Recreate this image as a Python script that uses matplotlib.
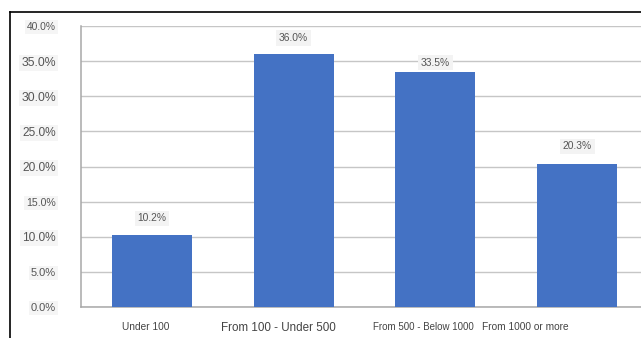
import matplotlib
matplotlib.use("Agg")
import matplotlib.pyplot as plt
from matplotlib.lines import Line2D
from matplotlib.transforms import ScaledTranslation

categories = ["Under 100", "From 100 - Under 500", "From 500 - Below 1000", "From 1000 or more"]
values = [10.2, 36.0, 33.5, 20.3]
yticks = [0, 5, 10, 15, 20, 25, 30, 35, 40]
ytick_labels = ["0.0%", "5.0%", "10.0%", "15.0%", "20.0%", "25.0%", "30.0%", "35.0%", "40.0%"]

plt.rcParams['font.family'] = ['Liberation Sans', 'DejaVu Sans']

W, H = 641, 338
fig = plt.figure(figsize=(W / 100, H / 100), dpi=100)
ax = fig.add_axes([81 / W, 31 / H, 1 - 81 / W, (307 - 26) / H])

x = list(range(len(categories)))
ax.bar(x, values, width=0.565, color="#4472c4", zorder=3)
ax.set_xlim(-0.5, 3.45)
ax.set_ylim(0, 40)

ax.set_yticks(yticks)
ax.set_yticklabels(ytick_labels)
ax.yaxis.grid(True, color="#c6c6c6", linewidth=1.0, zorder=0)
ax.set_axisbelow(True)
ax.tick_params(axis="y", length=0, pad=18, labelsize=7.6, labelcolor="#555555")
ax.tick_params(axis="x", length=0, pad=11, labelcolor="#444444")
ysizes = [8.0, 8.0, 8.6, 7.6, 8.6, 8.6, 8.8, 8.8, 7.4]
for lab, s in zip(ax.get_yticklabels(), ysizes):
    lab.set_fontsize(s)
    lab.set_bbox(dict(facecolor="#f5f5f5", edgecolor="none", pad=1.5))

ax.set_xticks(x)
ax.set_xticklabels(categories)
xsizes = [7.3, 8.4, 7.0, 7.3]
xshift = [-6, -15, -12, -52]
for lab, s, dx in zip(ax.get_xticklabels(), xsizes, xshift):
    lab.set_fontsize(s)
    lab.set_transform(lab.get_transform() + ScaledTranslation(dx / 100, 0, fig.dpi_scale_trans))

for side in ["top", "right"]:
    ax.spines[side].set_visible(False)
for side in ["left", "bottom"]:
    ax.spines[side].set_color("#a8a8a8")
    ax.spines[side].set_linewidth(1.1)

offsets = [17, 16, 9, 18]
for xi, v, off in zip(x, values, offsets):
    ax.annotate(f"{v:.1f}%", (xi, v), xytext=(0, off * 0.72), textcoords="offset points",
                ha="center", va="center", fontsize=7.4, color="#555555",
                bbox=dict(facecolor="#f3f3f3", edgecolor="none", pad=2.0), zorder=4)

# outer frame lines (top and left)
fig.add_artist(Line2D([10 / W, 1], [1 - 12 / H, 1 - 12 / H], color="black", linewidth=1.2, transform=fig.transFigure))
fig.add_artist(Line2D([10 / W, 10 / W], [0, 1 - 12 / H], color="black", linewidth=1.2, transform=fig.transFigure))

fig.savefig("out.png", dpi=100, facecolor="white")
